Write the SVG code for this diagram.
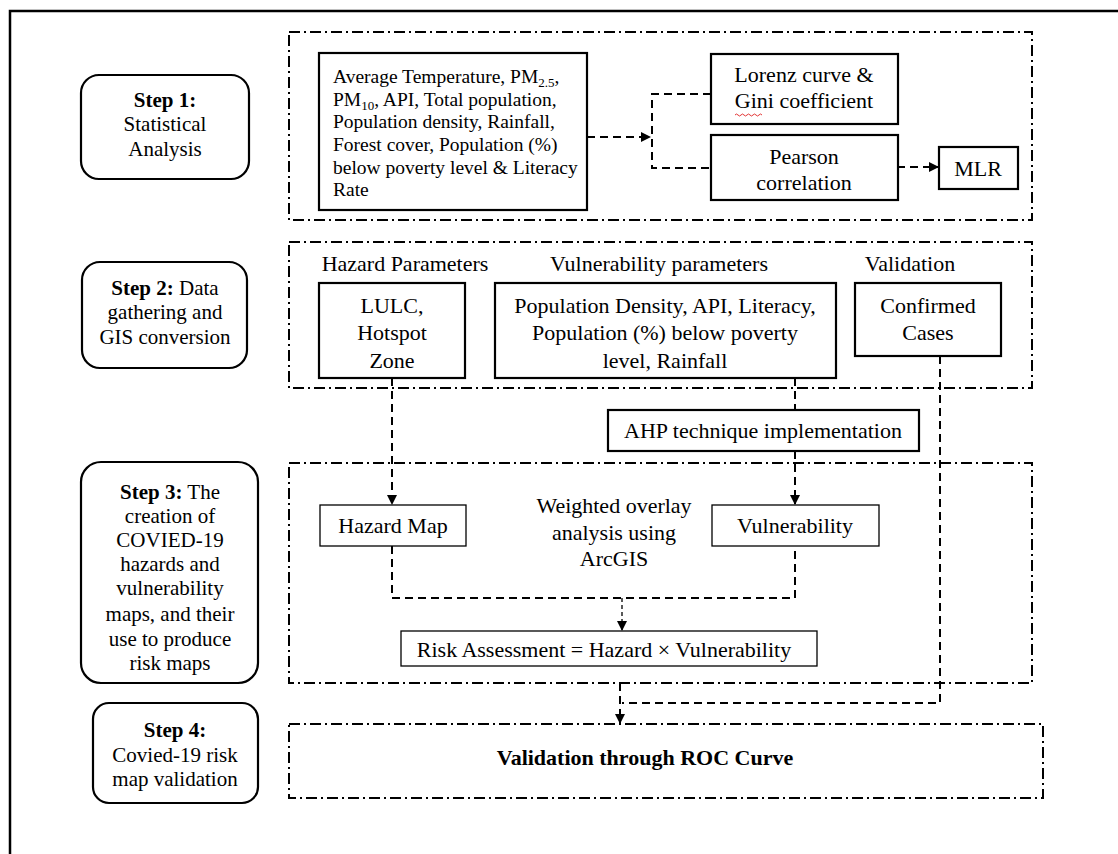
<svg xmlns="http://www.w3.org/2000/svg" width="1118" height="854" viewBox="0 0 1118 854">
<style>
text{font-family:"Liberation Serif","Times New Roman",serif;fill:#000;}
.t{font-size:22px;text-anchor:middle;}
.st{font-size:21px;text-anchor:middle;}
.s{font-size:19.5px;}
.b{font-weight:bold;}
.step{fill:#fff;stroke:#000;stroke-width:2.2;}
.cont{fill:none;stroke:#000;stroke-width:2;stroke-dasharray:11 4 2 4;}
.box{fill:#fff;stroke:#000;stroke-width:2.2;}
.box1{fill:#fff;stroke:#000;stroke-width:1.3;}
.con{fill:none;stroke:#000;stroke-width:2;stroke-dasharray:8 5;}
.con2{fill:none;stroke:#000;stroke-width:1.3;stroke-dasharray:4 3;}
</style>
<defs>
<marker id="ah" markerWidth="10" markerHeight="10" refX="9" refY="5" orient="auto" markerUnits="userSpaceOnUse">
<path d="M0,0 L10,5 L0,10 Z" fill="#000"/>
</marker>
</defs>
<rect width="1118" height="854" fill="#fff"/>
<path d="M10,856 V11 H1120" fill="none" stroke="#000" stroke-width="2.5"/>

<!-- containers -->
<g id="containers">
<rect class="cont" x="289" y="32" width="743" height="188"/>
<rect class="cont" x="289" y="242" width="743" height="146"/>
<rect class="cont" x="289" y="463" width="743" height="220"/>
<rect class="cont" x="289" y="724" width="754" height="74"/>
</g>

<!-- connectors -->
<g id="connectors">
<path class="con" d="M587,137 H650" marker-end="url(#ah)"/>
<path class="con" d="M711,94 H652 V168 H711"/>
<path class="con" d="M897,167 H938" marker-end="url(#ah)"/>
<path class="con" d="M392,378 V504" marker-end="url(#ah)"/>
<path class="con" d="M795,378 V409"/>
<path class="con" d="M795,451 V504" marker-end="url(#ah)"/>
<path class="con" d="M392,546 V598 H795 V546"/>
<path class="con2" d="M622,598 V630" marker-end="url(#ah)"/>
<path class="con" d="M940,356 V703 H622"/>
<path class="con" d="M620,683 V723" marker-end="url(#ah)"/>
</g>

<!-- steps -->
<g id="step1">
<rect class="step" x="81" y="75" width="168" height="104" rx="18"/>
<text class="st" x="165" y="107"><tspan class="b">Step 1:</tspan></text>
<text class="st" x="165" y="131">Statistical</text>
<text class="st" x="165" y="156">Analysis</text>
</g>
<g id="step2">
<rect class="step" x="82" y="262" width="165" height="106" rx="18"/>
<text class="st" x="165" y="295"><tspan class="b">Step 2:</tspan> Data</text>
<text class="st" x="165" y="319">gathering and</text>
<text class="st" x="165" y="344">GIS conversion</text>
</g>
<g id="step3">
<rect class="step" x="81" y="462" width="177" height="221" rx="20"/>
<text class="st" x="170" y="499"><tspan class="b">Step 3:</tspan> The</text>
<text class="st" x="170" y="523">creation of</text>
<text class="st" x="170" y="547">COVIED-19</text>
<text class="st" x="170" y="571">hazards and</text>
<text class="st" x="170" y="595">vulnerability</text>
<text class="st" x="170" y="621">maps, and their</text>
<text class="st" x="170" y="646">use to produce</text>
<text class="st" x="170" y="670">risk maps</text>
</g>
<g id="step4">
<rect class="step" x="93" y="703" width="165" height="100" rx="16"/>
<text class="st" x="175" y="737"><tspan class="b">Step 4:</tspan></text>
<text class="st" x="175" y="762">Covied-19 risk</text>
<text class="st" x="175" y="786">map validation</text>
</g>

<!-- step 1 nodes -->
<g id="params">
<rect class="box" x="319" y="53" width="268" height="157"/>
<text class="s" x="333" y="83">Average Temperature, PM<tspan dy="4" font-size="13">2.5</tspan><tspan dy="-4">,</tspan></text>
<text class="s" x="333" y="106">PM<tspan dy="4" font-size="13">10</tspan><tspan dy="-4">, API, Total population,</tspan></text>
<text class="s" x="333" y="128">Population density, Rainfall,</text>
<text class="s" x="333" y="151">Forest cover, Population (%)</text>
<text class="s" x="333" y="174">below poverty level &amp; Literacy</text>
<text class="s" x="333" y="196">Rate</text>
</g>
<g id="lorenz">
<rect class="box" x="711" y="54" width="187" height="70"/>
<text class="t" x="804" y="82">Lorenz curve &amp;</text>
<text class="t" x="804" y="108">Gini coefficient</text>
<path d="M735,115 q1.5,-2 3,0 t3,0 t3,0 t3,0 t3,0 t3,0 t3,0 t3,0 t3,0" fill="none" stroke="#e02020" stroke-width="0.9"/>
</g>
<g id="pearson">
<rect class="box" x="711" y="135" width="187" height="65"/>
<text class="t" x="804" y="164">Pearson</text>
<text class="t" x="804" y="190">correlation</text>
</g>
<g id="mlr">
<rect class="box" x="939" y="147" width="79" height="42"/>
<text class="t" x="978" y="176">MLR</text>
</g>

<!-- step 2 nodes -->
<g id="labels2">
<text class="t" x="405" y="271">Hazard Parameters</text>
<text class="t" x="659" y="271">Vulnerability parameters</text>
<text class="t" x="910" y="271">Validation</text>
</g>
<g id="lulc">
<rect class="box" x="319" y="283" width="146" height="95"/>
<text class="t" x="392" y="313">LULC,</text>
<text class="t" x="392" y="340">Hotspot</text>
<text class="t" x="392" y="368">Zone</text>
</g>
<g id="vulnparams">
<rect class="box" x="495" y="283" width="341" height="95"/>
<text class="t" x="665" y="313" font-size="21">Population Density, API, Literacy,</text>
<text class="t" x="665" y="340" font-size="21">Population (%) below poverty</text>
<text class="t" x="665" y="368" font-size="21">level, Rainfall</text>
</g>
<g id="confirmed">
<rect class="box" x="855" y="283" width="146" height="73"/>
<text class="t" x="928" y="313">Confirmed</text>
<text class="t" x="928" y="340">Cases</text>
</g>
<g id="ahp">
<rect class="box" x="608" y="410" width="311" height="41"/>
<text class="t" x="763" y="438">AHP technique implementation</text>
</g>

<!-- step 3 nodes -->
<g id="hazardmap">
<rect class="box1" x="320" y="505" width="146" height="41"/>
<text class="t" x="393" y="533">Hazard Map</text>
</g>
<g id="overlay">
<text class="t" x="614" y="513">Weighted overlay</text>
<text class="t" x="614" y="540">analysis using</text>
<text class="t" x="614" y="566">ArcGIS</text>
</g>
<g id="vulnerability">
<rect class="box1" x="712" y="505" width="167" height="41"/>
<text class="t" x="795" y="533">Vulnerability</text>
</g>
<g id="risk">
<rect class="box1" x="401" y="631" width="416" height="35"/>
<text class="t" x="604" y="657">Risk Assessment = Hazard × Vulnerability</text>
</g>

<!-- step 4 node -->
<g id="roc">
<text class="t b" x="645" y="765" font-size="23">Validation through ROC Curve</text>
</g>
</svg>
